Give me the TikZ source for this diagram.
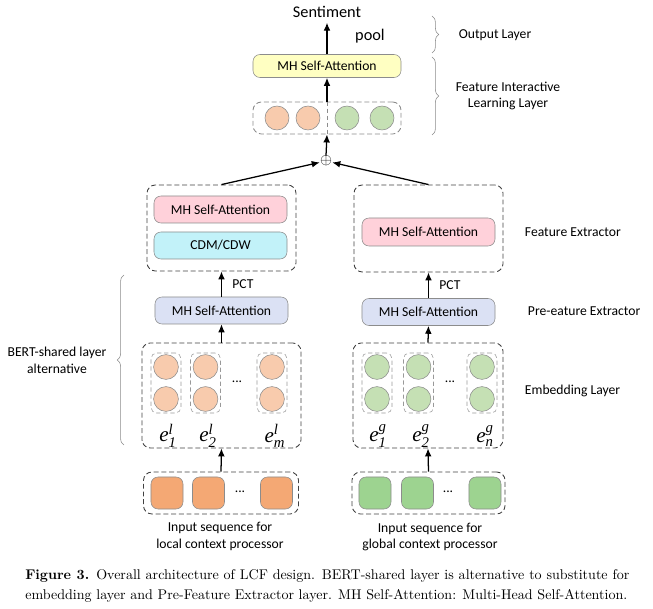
\documentclass[tikz,border=0pt]{standalone}
\usepackage{fontspec}
\usepackage{amsmath}
\usetikzlibrary{arrows.meta,decorations.pathreplacing}
\newfontfamily\carl{Carlito}
\newfontfamily\efont{Liberation Serif}
\definecolor{boxline}{HTML}{8C8C8C}
\definecolor{yelfill}{HTML}{FFFFC2}
\definecolor{pinkfill}{HTML}{FFD1DA}
\definecolor{cyanfill}{HTML}{C2F2F9}
\definecolor{lavfill}{HTML}{DBE1F4}
\definecolor{orgdot}{HTML}{F8CBAD}
\definecolor{grndot}{HTML}{C5E0B4}
\definecolor{orgsq}{HTML}{F4A874}
\definecolor{grnsq}{HTML}{9DD390}
\definecolor{bracegray}{HTML}{8A8A8A}

\tikzset{
  attbox/.style={draw=boxline, rounded corners=5pt, minimum width=3.325cm, minimum height=0.675cm},
  group/.style={draw=black!75, line width=0.6pt, dash pattern=on 3.5pt off 2pt, rounded corners=6pt},
  slot/.style={draw=black!40, densely dashed, rounded corners=4pt, minimum width=0.75cm, minimum height=1.5cm},
  tok/.style={circle, draw=boxline, minimum size=0.62cm, inner sep=0pt},
  word/.style={draw=boxline, rounded corners=5pt, minimum size=0.8cm, inner sep=0pt},
  arr/.style={line width=0.9pt, -{Latex[length=2mm,width=1.7mm]}},
  layerbrace/.style={draw=bracegray, decorate, decoration={brace, amplitude=0.17cm}},
  emb/.style={inner sep=0pt, font=\efont\fontsize{15}{15}\selectfont}
}

\begin{document}
\begin{tikzpicture}[x=0.025cm, y=-0.025cm, font=\carl\fontsize{9.7}{12}\selectfont]
\useasboundingbox (0,0) rectangle (653,609);

\node (sent) at (327,12) {\fontsize{11.6}{14}\selectfont Sentiment};
\node (pool) at (370,36) {\fontsize{11.6}{14}\selectfont pool};
\node[attbox, fill=yelfill, minimum width=3.7cm, minimum height=0.575cm] (mhtop) at (327,66) {MH Self-Attention};
\node[group, draw=black!45, minimum width=3.7cm, minimum height=0.8cm] (fuse) at (327,118) {};
\draw[black!45, densely dashed] (fuse.north) -- (fuse.south);
\node[tok, fill=orgdot, minimum size=0.6cm] (fo1) at (277,118) {};
\node[tok, fill=orgdot, minimum size=0.6cm] (fo2) at (308,118) {};
\node[tok, fill=grndot, minimum size=0.6cm] (fg1) at (347,118) {};
\node[tok, fill=grndot, minimum size=0.6cm] (fg2) at (382,118) {};
\node[inner sep=0pt] (plus) at (326,161) {\fontsize{11}{11}\selectfont$\oplus$};

\draw[arr] (mhtop.north) -- (sent.south);
\draw[arr] (fuse.north) -- (mhtop.south);
\draw[arr] (plus.north) -- (fuse.south);

\node[group, minimum width=3.725cm, minimum height=2.15cm] (featL) at (221.5,228) {};
\node[attbox, fill=pinkfill] (fattL) at (220.5,209.5) {MH Self-Attention};
\node[attbox, fill=cyanfill] (cdm) at (220.5,245.5) {CDM/CDW};
\node[group, minimum width=3.725cm, minimum height=2.175cm] (featR) at (428.5,228.5) {};
\node[attbox, fill=pinkfill, minimum height=0.7cm] (fattR) at (428.5,232) {MH Self-Attention};

\draw[arr] (featL.north) -- (plus);
\draw[arr] (featR.north) -- (plus);

\node[attbox, fill=lavfill] (preL) at (221.5,310.5) {MH Self-Attention};
\node[attbox, fill=lavfill] (preR) at (428.5,312) {MH Self-Attention};
\draw[arr] (preL.north) -- node[right=4pt] (pctL) {PCT} (featL.south);
\draw[arr] (preR.north) -- node[right=4pt] (pctR) {PCT} (featR.south);

\node[group, minimum width=3.975cm, minimum height=2.625cm] (embL) at (221.5,395.5) {};
\node[slot] (sL1) at (166,383) {};
\node[slot] (sL2) at (205.5,383) {};
\node[slot] (sLm) at (272,383) {};
\node[tok, fill=orgdot] (oa1) at (166,367) {};
\node[tok, fill=orgdot] (ob1) at (166,399) {};
\node[tok, fill=orgdot] (oa2) at (205.5,367) {};
\node[tok, fill=orgdot] (ob2) at (205.5,399) {};
\node[tok, fill=orgdot] (oam) at (272,367) {};
\node[tok, fill=orgdot] (obm) at (272,399) {};
\node (dotsL) at (237,382) {...};
\node[emb] (eL1) at (168,436) {$\textit{e}^{\textit{l}}_{\textit{1}}$};
\node[emb] (eL2) at (208,436) {$\textit{e}^{\textit{l}}_{\textit{2}}$};
\node[emb] (eLm) at (275,436) {$\textit{e}^{\textit{l}}_{\textit{m}}$};

\node[group, minimum width=3.75cm, minimum height=2.625cm] (embR) at (428,395.5) {};
\node[slot] (sR1) at (377,383) {};
\node[slot] (sR2) at (418.5,383) {};
\node[slot] (sRn) at (482,383) {};
\node[tok, fill=grndot] (ga1) at (377,367) {};
\node[tok, fill=grndot] (gb1) at (377,399) {};
\node[tok, fill=grndot] (ga2) at (418.5,367) {};
\node[tok, fill=grndot] (gb2) at (418.5,399) {};
\node[tok, fill=grndot] (gan) at (482,367) {};
\node[tok, fill=grndot] (gbn) at (482,399) {};
\node (dotsR) at (450,382) {...};
\node[emb] (eR1) at (378,436) {$\textit{e}^{\textit{g}}_{\textit{1}}$};
\node[emb] (eR2) at (421,436) {$\textit{e}^{\textit{g}}_{\textit{2}}$};
\node[emb] (eRn) at (485,436) {$\textit{e}^{\textit{g}}_{\textit{n}}$};

\draw[arr] (embL.north) -- (preL.south);
\draw[arr] (embR.north) -- (preR.south);

\node[group, minimum width=3.875cm, minimum height=1.05cm] (inL) at (221,493) {};
\node[word, fill=orgsq] (wL1) at (167,493) {};
\node[word, fill=orgsq] (wL2) at (208.5,493) {};
\node[word, fill=orgsq] (wLm) at (276.5,493) {};
\node (dotsIL) at (240,492) {...};
\node[group, minimum width=3.825cm, minimum height=1.05cm] (inR) at (428.5,493) {};
\node[word, fill=grnsq] (wR1) at (375,493) {};
\node[word, fill=grnsq] (wR2) at (417.5,493) {};
\node[word, fill=grnsq] (wRn) at (485,493) {};
\node (dotsIR) at (448,492) {...};

\draw[arr] (inL.north) -- (embL.south);
\draw[arr] (inR.north) -- (embR.south);

\node[align=center] (txtL) at (220,536) {Input sequence for\\local context processor};
\node[align=center] (txtR) at (430,537) {Input sequence for\\global context processor};

\node[anchor=west] (outlab) at (454,35) {Output Layer};
\node[align=center] (fillab) at (508,96) {Feature Interactive\\Learning Layer};
\node[anchor=west] (felab) at (520,232) {Feature Extractor};
\node[anchor=west] (prelab) at (523,311) {Pre-eature Extractor};
\node[anchor=west] (emblab) at (520,391) {Embedding Layer};
\node[align=center] (bert) at (57,360) {BERT-shared layer\\alternative};

\draw[layerbrace] (432,16) -- (432,53);
\draw[layerbrace] (432,57) -- (432,135);
\draw[layerbrace] (124,445) -- (124,275);

\node[anchor=north west, text width=15.1cm, align=justify, inner sep=0pt, font=\rmfamily\fontsize{10}{14.2}\selectfont] (cap) at (25,569) {\textbf{Figure 3.}\enspace Overall architecture of LCF design. BERT-shared layer is alternative to substitute for\linebreak embedding layer and Pre-Feature Extractor layer. MH Self-Attention: Multi-Head Self-Attention.};
\end{tikzpicture}
\end{document}
